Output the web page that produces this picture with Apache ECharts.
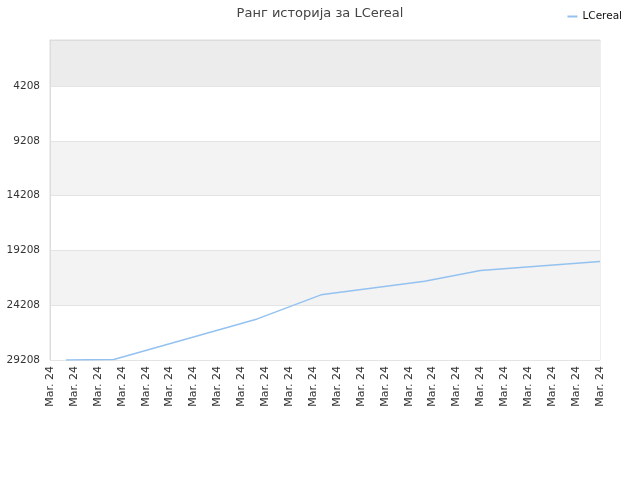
<!DOCTYPE html>
<html>
<head>
<meta charset="utf-8">
<script src="https://cdn.jsdelivr.net/npm/echarts@6/dist/echarts.min.js"></script>
<style>html,body{margin:0;padding:0;background:#fff}#c{width:640px;height:480px}</style>
</head>
<body>
<div id="c"></div>
<script>
const titleText = 'Ранг историја за LCereal';
const seriesName = 'LCereal';
const categories = Array(70).fill('Mar. 24');
// rank values at the visible vertices (null = no reading)
const rankValues = [
  null, null, 29208, null, null, null, null, null, 29162, null,
  null, null, null, null, null, null, null, null, null, null,
  null, null, null, null, null, null, 25458, null, null, null,
  null, null, null, null, 23262, null, null, null, null, null,
  null, null, null, null, null, null, null, 22027, null, null,
  null, null, null, null, 21039, null, null, null, null, null,
  null, null, null, null, null, null, null, null, null, 20216
];
const yTickValues = [4208, 9208, 14208, 19208, 24208, 29208];
const yMin = 0;
const yMax = 29208;

const chart = echarts.init(document.getElementById('c'), null, {renderer: 'canvas'});
chart.setOption({
  animation: false,
  backgroundColor: '#fff',
  textStyle: {fontFamily: 'DejaVu Sans'},
  title: {
    text: titleText, left: 'center', top: 2,
    textStyle: {fontSize: 13, fontWeight: 'normal', color: '#444', fontFamily: 'DejaVu Sans'}
  },
  legend: {
    right: 13, top: 6, icon: 'rect', itemWidth: 10, itemHeight: 2, itemGap: 5,
    textStyle: {fontSize: 10.5, color: '#111', fontFamily: 'DejaVu Sans'},
    data: [seriesName]
  },
  grid: {left: 50, right: 40, top: 40, bottom: 120, show: true, borderColor: '#ddd', borderWidth: 1, containLabel: false},
  xAxis: {
    type: 'category', data: categories, boundaryGap: false,
    axisLine: {lineStyle: {color: '#ddd'}},
    axisTick: {show: false},
    axisLabel: {interval: 2, rotate: 90, fontSize: 11, color: '#333', margin: 6, fontFamily: 'DejaVu Sans'},
    splitLine: {show: false}
  },
  yAxis: {
    type: 'value', inverse: true, min: yMin, max: yMax,
    axisLine: {show: true, lineStyle: {color: '#ddd'}},
    axisTick: {show: false, customValues: [yMin].concat(yTickValues)},
    axisLabel: {customValues: yTickValues, fontSize: 10.5, color: '#333', margin: 10, fontFamily: 'DejaVu Sans',
      formatter: function (v) { return String(v); }},
    splitLine: {show: true, lineStyle: {color: '#e4e4e4'}},
    splitArea: {show: true, areaStyle: {color: ['#ececec', '#ffffff', '#f3f3f3', '#ffffff', '#f3f3f3', '#ffffff']}}
  },
  series: [{
    name: seriesName, type: 'line', data: rankValues, connectNulls: true,
    showSymbol: false, symbol: 'none',
    lineStyle: {color: '#94c2f0', width: 1.5},
    itemStyle: {color: '#94c2f0'}
  }]
});
</script>
</body>
</html>
